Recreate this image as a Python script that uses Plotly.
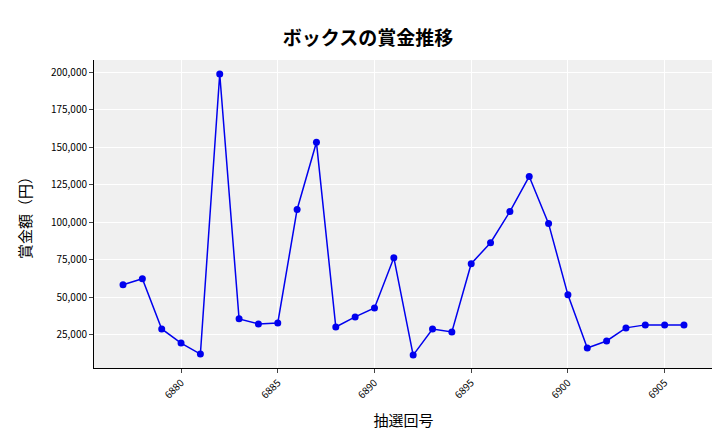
import plotly.graph_objects as go

draws = list(range(6877, 6907))
prizes = [58400, 62400, 29000, 19600, 12300, 198700, 35700, 32300, 33000, 108500,
          153200, 30300, 37000, 43000, 76400, 11600, 29000, 27000, 72400, 86400,
          107100, 130500, 99100, 51700, 16300, 21000, 29700, 31700, 31700, 31700]
xticks = [6880, 6885, 6890, 6895, 6900, 6905]
yticks = [25000, 50000, 75000, 100000, 125000, 150000, 175000, 200000]

fig = go.Figure(go.Scatter(x=draws, y=prizes, mode="lines+markers",
                           line=dict(color="#0000ee", width=1.5),
                           marker=dict(color="#0000ee", size=7)))
font = "Noto Sans CJK JP"
fig.update_layout(
    width=720, height=432, margin=dict(l=86, r=15, t=52, b=72, autoexpand=False),
    paper_bgcolor="white", plot_bgcolor="#f0f0f0", showlegend=False,
    title=dict(text="<b>ボックスの賞金推移</b>", x=0.5, xanchor="center", y=0.945,
               font=dict(family=font, size=19, color="black")),
    font=dict(family=font, color="black"),
)
fig.update_xaxes(tickvals=xticks, ticktext=[str(v) for v in xticks], tickangle=-45,
                 tickfont=dict(size=10, color="black"), gridcolor="white", showline=True,
                 linecolor="black", ticks="outside", ticklen=4, automargin=False,
                 range=[6875.5, 6907.5],
                 title=dict(text="抽選回号", font=dict(size=15)))
fig.update_yaxes(tickvals=yticks, tickformat=",", tickfont=dict(size=10, color="black"),
                 gridcolor="white", showline=True, linecolor="black", automargin=False,
                 ticks="outside", ticklen=4, range=[3000, 208000],
                 title=dict(text="賞金額（円）", font=dict(size=15)))
fig.write_html("out.html")
